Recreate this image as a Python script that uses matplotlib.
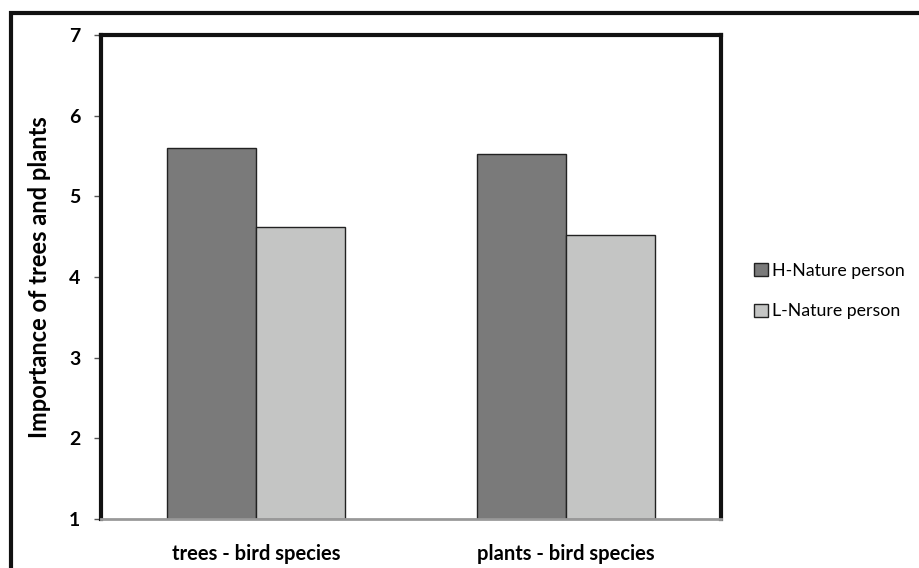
import matplotlib.pyplot as plt
from matplotlib.patches import Rectangle
import numpy as np

plt.rcParams['font.family'] = ['Lato', 'DejaVu Sans']

categories = ['trees - bird species', 'plants - bird species']
series_names = ['H-Nature person', 'L-Nature person']
h_values = [5.60, 5.53]
l_values = [4.62, 4.52]
colors = ['#7a7a7a', '#c4c5c4']

fig = plt.figure(figsize=(9.2, 5.68), dpi=100)
ax = fig.add_axes([101 / 920, 49 / 568, 620 / 920, 484 / 568])

x = np.arange(len(categories))
w = 0.287
ax.bar(x - w / 2, np.array(h_values) - 1, w, bottom=1, color=colors[0],
       edgecolor='#222222', linewidth=1, label=series_names[0])
ax.bar(x + w / 2, np.array(l_values) - 1, w, bottom=1, color=colors[1],
       edgecolor='#222222', linewidth=1, label=series_names[1])

ax.set_xlim(-0.5, 1.5)
ax.set_ylim(1, 7)
ax.set_yticks(range(1, 8))
ax.set_xticks(x)
ax.set_xticklabels(categories, fontsize=14.5, fontweight='bold')
ax.tick_params(axis='x', length=0, pad=18)
ax.tick_params(axis='y', length=5, width=1, pad=10, labelsize=14, color='#555555')
for t in ax.get_yticklabels():
    t.set_fontweight('bold')

for s in ['left', 'top', 'right']:
    ax.spines[s].set_linewidth(3)
    ax.spines[s].set_color('#111111')
ax.spines['bottom'].set_linewidth(2)
ax.spines['bottom'].set_color('#999999')

ax.set_ylabel('Importance of trees and plants', fontsize=17, fontweight='bold',
              labelpad=13)

ax.legend(loc='center left', bbox_to_anchor=(1.028, 0.471), frameon=False,
          fontsize=12.8, handlelength=0.75, handleheight=0.75, handletextpad=0.25,
          labelspacing=1.4)

# outer frame of the figure
fig.patches.append(Rectangle((11 / 920, -0.1), 1.2, 1 - 13 / 568 + 0.1,
                             transform=fig.transFigure, fill=False,
                             edgecolor='#111111', linewidth=3))

fig.savefig('out.png', dpi=100)
